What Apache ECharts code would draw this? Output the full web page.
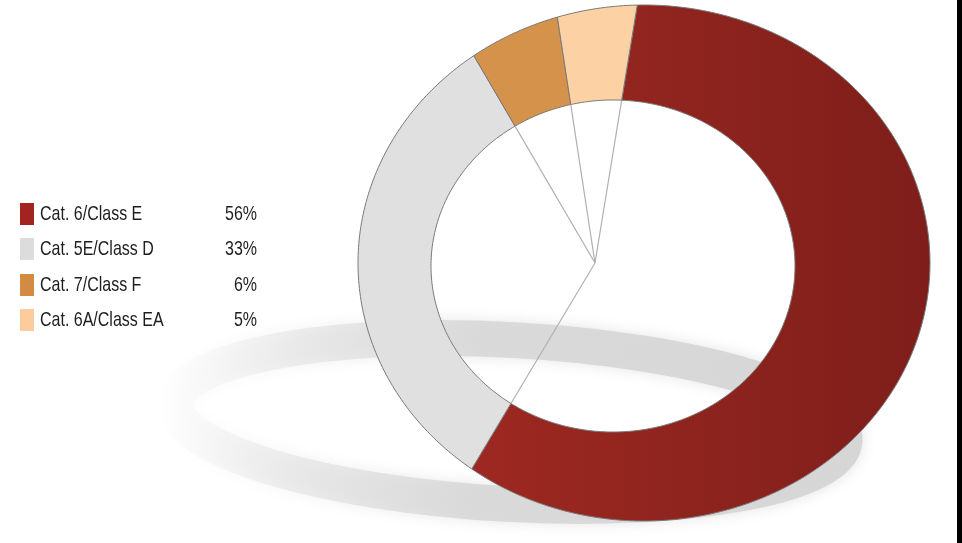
<!DOCTYPE html>
<html><head><meta charset="utf-8">
<script src="https://cdn.jsdelivr.net/npm/echarts@6/dist/echarts.min.js"></script>
<style>html,body{margin:0;padding:0;background:#fff}#c{width:962px;height:543px}</style>
</head><body><div id="c"></div>
<script>
// ---- data ----
const categories = ['Cat. 6/Class E', 'Cat. 5E/Class D', 'Cat. 7/Class F', 'Cat. 6A/Class EA'];
const shares = [56, 33, 6, 5];
const pctLabels = ['56%', '33%', '6%', '5%'];

// ---- styles ----
const legendColors = ['#a3241e', '#dcdcdc', '#d38a42', '#fdcc9c'];
const chart = echarts.init(document.getElementById('c'), null, {renderer: 'canvas'});
const redFill = new echarts.graphic.LinearGradient(358, 0, 932, 0, [
  {offset: 0, color: '#a52b23'}, {offset: 1, color: '#7e1e1a'}], true);
const sliceFills = [redFill, '#e0e0e0', '#d4924b', '#fcd2a5'];

// geometry of the tilted donut (apex of slice rays, inner and outer ellipses)
const P = [595, 263];
const IN = {cx: 613, cy: 266, rx: 182, ry: 166};
const OUT = {cx: 644, cy: 263, rx: 286, ry: 258};
const START = 9.3; // degrees clockwise from 12 o'clock
const total = shares.reduce((a, b) => a + b, 0);

function hit(E, deg) {
  const th = deg * Math.PI / 180;
  const dx = Math.sin(th), dy = -Math.cos(th);
  const ox = P[0] - E.cx, oy = P[1] - E.cy;
  const A = E.rx * E.rx, B = E.ry * E.ry;
  const a = dx * dx / A + dy * dy / B;
  const b = 2 * (ox * dx / A + oy * dy / B);
  const c = ox * ox / A + oy * oy / B - 1;
  const t = (-b + Math.sqrt(b * b - 4 * a * c)) / (2 * a);
  return [P[0] + t * dx, P[1] + t * dy];
}

function renderItem(params, api) {
  const i = params.dataIndex;
  const v = api.value(0);
  let before = 0;
  for (let k = 0; k < i; k++) before += shares[k];
  const a0 = START + before / total * 360;
  const a1 = a0 + v / total * 360;
  const n = Math.max(6, Math.ceil(a1 - a0));
  const pts = [];
  for (let s = 0; s <= n; s++) pts.push(hit(OUT, a0 + (a1 - a0) * s / n));
  for (let s = n; s >= 0; s--) pts.push(hit(IN, a0 + (a1 - a0) * s / n));
  const ip = hit(IN, a0);
  return {
    type: 'group',
    children: [
      {type: 'polygon', shape: {points: pts},
       style: {fill: sliceFills[i], stroke: '#7a7a7a', lineWidth: 1}},
      {type: 'line', shape: {x1: P[0], y1: P[1], x2: ip[0], y2: ip[1]},
       style: {stroke: '#b0b0b0', lineWidth: 1.2}}
    ]
  };
}

const graphics = [];
// soft floor shadow
graphics.push({
  type: 'ellipse', x: 510, y: 422, rotation: -0.055, z: 0,
  shape: {cx: 0, cy: 0, rx: 335, ry: 82},
  style: {
    fill: 'none', lineWidth: 36,
    stroke: new echarts.graphic.LinearGradient(0, 0, 1, 0, [
      {offset: 0, color: 'rgba(222,222,222,0)'},
      {offset: 0.06, color: 'rgba(222,222,222,0.12)'},
      {offset: 0.2, color: 'rgba(220,220,220,0.45)'},
      {offset: 0.45, color: 'rgba(216,216,216,0.9)'},
      {offset: 1, color: 'rgba(214,214,214,1)'}]),
    shadowBlur: 14, shadowColor: 'rgba(215,215,215,0.7)'
  }
});
// legend
const rowY = [214, 249, 285, 320];
categories.forEach((name, i) => {
  graphics.push({type: 'rect', z: 10, shape: {x: 20, y: rowY[i] - 11, width: 14, height: 22},
    style: {fill: legendColors[i]}});
  graphics.push({type: 'text', z: 10, x: 40, y: rowY[i], scaleY: 1.3,
    style: {text: name, font: '16px "Liberation Sans", Arial, sans-serif', fill: '#1e1e1e',
      align: 'left', verticalAlign: 'middle'}});
  graphics.push({type: 'text', z: 10, x: 257, y: rowY[i], scaleY: 1.3,
    style: {text: pctLabels[i], font: '16px "Liberation Sans", Arial, sans-serif', fill: '#1e1e1e',
      align: 'right', verticalAlign: 'middle'}});
});
// right frame bar
graphics.push({type: 'rect', z: 10, shape: {x: 957, y: 0, width: 5, height: 543}, style: {fill: '#000'}});

chart.setOption({
  animation: false,
  backgroundColor: '#fff',
  graphic: graphics,
  series: [{
    type: 'custom',
    coordinateSystem: 'none',
    z: 5,
    renderItem: renderItem,
    data: shares.map((v, i) => ({name: categories[i], value: [v]}))
  }]
});
</script>
</body></html>
